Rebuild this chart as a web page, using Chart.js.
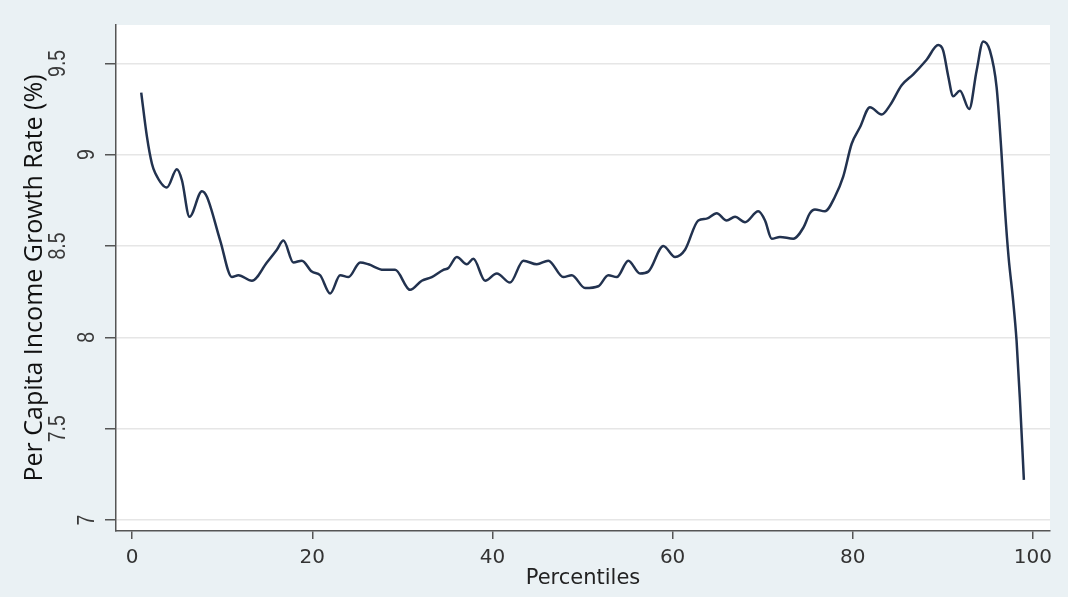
<!DOCTYPE html>
<html lang="en">
<head>
<meta charset="UTF-8" />
<script src="https://cdn.jsdelivr.net/npm/chart.js@4.4.1/dist/chart.umd.min.js"></script>
<title>Per Capita Income Growth Rate</title>
<style>
  html, body { margin: 0; padding: 0; background: #eaf1f4; }
</style>
</head>
<body>
<canvas id="chart" width="1068" height="597"></canvas>
<script>
  // points (percentile, growth rate in %)
  const percentiles = [1, 1.63, 2.19, 2.55, 3.85, 4.96, 5.52, 6.36, 7.74, 8.29,
    9.77, 11.07, 11.8, 13.29, 14.95, 16.06, 16.79, 17.9, 18.83, 19.94,
    20.87, 21.98, 23.09, 24.01, 25.31, 26.23, 27.89, 29.19, 30.85, 32.15,
    33.26, 34.55, 35.11, 36.04, 37.15, 37.88, 39.18, 40.48, 41.95, 43.43,
    44.92, 46.2, 47.87, 48.8, 50.28, 51.75, 52.86, 53.8, 55.08, 56.38,
    57.3, 58.97, 60.27, 61.38, 62.85, 63.78, 64.89, 66, 66.93, 68.04,
    69.51, 70.26, 71, 71.92, 73.4, 74.51, 75.25, 75.8, 76.91, 78.02,
    78.94, 79.88, 80.8, 81.91, 83.21, 84.13, 85.43, 86.72, 88.2, 89.49,
    90.04, 90.6, 91.15, 91.9, 92.93, 93.75, 94.48, 95.23, 95.97, 96.5,
    96.9, 97.3, 97.81, 98.19, 98.56, 99];
  const growthRate = [9.34, 9.10, 8.95, 8.90, 8.82, 8.92, 8.86, 8.66, 8.80, 8.77,
    8.53, 8.33, 8.34, 8.31, 8.41, 8.48, 8.53, 8.41, 8.42, 8.36,
    8.34, 8.24, 8.34, 8.33, 8.41, 8.40, 8.37, 8.37, 8.26, 8.31,
    8.33, 8.37, 8.38, 8.44, 8.40, 8.43, 8.31, 8.35, 8.30, 8.42,
    8.40, 8.42, 8.33, 8.34, 8.27, 8.28, 8.34, 8.33, 8.42, 8.35,
    8.36, 8.50, 8.44, 8.48, 8.64, 8.65, 8.68, 8.64, 8.66, 8.63,
    8.69, 8.64, 8.54, 8.55, 8.54, 8.60, 8.68, 8.70, 8.69, 8.77,
    8.88, 9.06, 9.15, 9.26, 9.22, 9.27, 9.38, 9.44, 9.52, 9.60,
    9.57, 9.43, 9.32, 9.35, 9.25, 9.46, 9.62, 9.57, 9.37, 9.02,
    8.70, 8.44, 8.20, 7.98, 7.66, 7.22];
  const xTicks = [0, 20, 40, 60, 80, 100];
  const yTicks = [7, 7.5, 8, 8.5, 9, 9.5];

  const outerColor = "#eaf1f4";
  const axisColor = "#555555";

  // grey page, white plot region
  const background = {
    id: "background",
    beforeDraw(chart) {
      const { ctx, chartArea: a } = chart;
      ctx.save();
      ctx.fillStyle = outerColor;
      ctx.fillRect(0, 0, chart.width, chart.height);
      ctx.fillStyle = "#ffffff";
      ctx.fillRect(a.left, a.top, a.right - a.left, a.bottom - a.top);
      ctx.restore();
    },
  };

  // y tick labels turned on their side, like the stata output
  const yLabels = {
    id: "yLabels",
    afterDraw(chart) {
      const scale = chart.scales.y;
      const ctx = chart.ctx;
      ctx.save();
      ctx.font = '19.5px "Liberation Sans"';
      ctx.fillStyle = "#3a3a3a";
      ctx.textAlign = "center";
      ctx.textBaseline = "middle";
      scale.ticks.forEach((t) => {
        const label = String(t.value);
        const w = ctx.measureText(label).width;
        const x = scale.right - 10.7 - 1.79 * w;
        const y = scale.getPixelForValue(t.value);
        ctx.save();
        ctx.translate(x, y);
        ctx.scale(1.25, 1);
        ctx.rotate(-Math.PI / 2);
        ctx.fillText(label, 0, 1);
        ctx.restore();
      });
      ctx.restore();
    },
  };

  const ctx = document.getElementById("chart").getContext("2d");
  new Chart(ctx, {
    type: "line",
    data: {
      datasets: [
        {
          data: percentiles.map((p, i) => ({ x: p, y: growthRate[i] })),
          borderColor: "#22324f",
          borderWidth: 2.5,
          pointRadius: 0,
          fill: false,
          cubicInterpolationMode: "monotone",
        },
      ],
    },
    options: {
      responsive: false,
      animation: false,
      layout: { padding: { top: 25, right: 18, left: 0, bottom: 0 } },
      plugins: { legend: { display: false }, tooltip: { enabled: false } },
      scales: {
        x: {
          type: "linear",
          min: -1.8,
          max: 101.9,
          afterBuildTicks: (s) => { s.ticks = xTicks.map((v) => ({ value: v })); },
          afterFit: (s) => { s.height = 66; },
          grid: { drawOnChartArea: false, tickColor: axisColor, tickLength: 8, lineWidth: 1.5 },
          border: { color: axisColor, width: 1.5 },
          ticks: {
            maxRotation: 0,
            padding: 7,
            color: "#333333",
            font: { family: "DejaVu Sans", size: 20 },
          },
          title: {
            display: true,
            text: "Percentiles",
            color: "#222222",
            font: { family: "DejaVu Sans", size: 21 },
            padding: { top: 0, bottom: 6 },
          },
        },
        y: {
          min: 6.94,
          max: 9.71,
          afterBuildTicks: (s) => { s.ticks = yTicks.map((v) => ({ value: v })); },
          afterFit: (s) => { s.width = 116; },
          grid: { color: "#e6e6e6", lineWidth: 1.5, tickColor: axisColor, tickLength: 11 },
          border: { color: axisColor, width: 1.5 },
          ticks: { display: false },
          title: {
            display: true,
            text: "Per Capita Income Growth Rate (%)",
            color: "#111111",
            font: { family: "Open Sans", size: 25 },
            padding: { top: 20, bottom: 0 },
          },
        },
      },
    },
    plugins: [background, yLabels],
  });
</script>
</body>
</html>
